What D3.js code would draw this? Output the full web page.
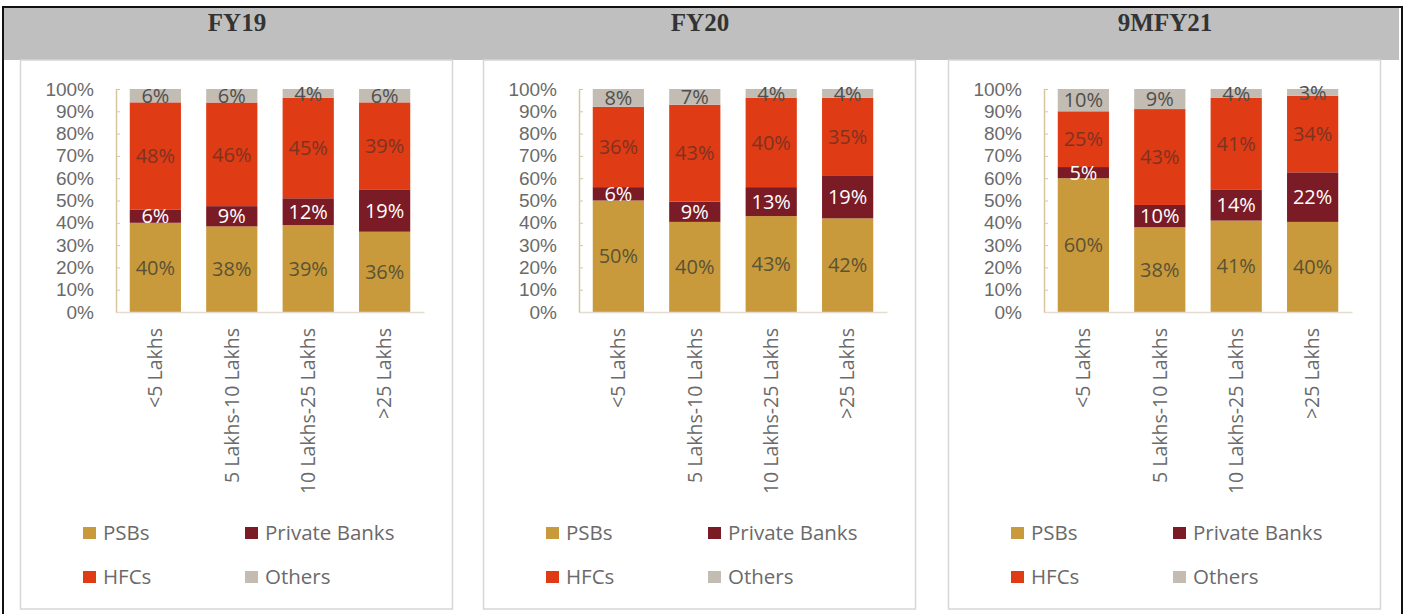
<!DOCTYPE html>
<html>
<head>
<meta charset="utf-8">
<script src="https://cdn.jsdelivr.net/npm/d3@7"></script>
<style>
  html, body { margin: 0; padding: 0; background: #fff; }
  svg { display: block; }
  text { font-family: "Open Sans", "Noto Sans", sans-serif; }
</style>
</head>
<body>
<svg id="chart" width="1405" height="614"></svg>
<script>
// ---------- data ----------
const periods = ["FY19", "FY20", "9MFY21"];
const categories = ["<5 Lakhs", "5 Lakhs-10 Lakhs", "10 Lakhs-25 Lakhs", ">25 Lakhs"];
const seriesNames = ["PSBs", "Private Banks", "HFCs", "Others"];

// one row per period (FY19, FY20, 9MFY21), one value per category
const psbs         = [[40, 38, 39, 36], [50, 40, 43, 42], [60, 38, 41, 40]];
const privateBanks = [[6, 9, 12, 19],   [6, 9, 13, 19],   [5, 10, 14, 22]];
const hfcs         = [[48, 46, 45, 39], [36, 43, 40, 35], [25, 43, 41, 34]];
const others       = [[6, 6, 4, 6],     [8, 7, 4, 4],     [10, 9, 4, 3]];

const yTickValues = [0, 10, 20, 30, 40, 50, 60, 70, 80, 90, 100];

// ---------- styles ----------
const colors = { "PSBs": "#c99a3b", "Private Banks": "#7a1b26", "HFCs": "#df3b14", "Others": "#c2bcb2" };
const labelColors = { "PSBs": "#5a5235", "Private Banks": "#ffffff", "HFCs": "#7e3322", "Others": "#4f4f4f" };
const textGray = "#6a6a6a";

const svg = d3.select("#chart");

// outer frame + header band
svg.append("rect").attr("x", 4).attr("y", 8).attr("width", 1395).attr("height", 52).attr("fill", "#bfbfbf");
svg.append("line").attr("x1", 3).attr("x2", 1403).attr("y1", 7).attr("y2", 7).attr("stroke", "#111").attr("stroke-width", 2);
svg.append("line").attr("x1", 3).attr("x2", 3).attr("y1", 6).attr("y2", 614).attr("stroke", "#111").attr("stroke-width", 2);
svg.append("line").attr("x1", 1402).attr("x2", 1402).attr("y1", 6).attr("y2", 614).attr("stroke", "#111").attr("stroke-width", 2);

const panelX = [20, 483, 948];
const panelW = 432;
const panelTop = 60, panelBottom = 609;
const plotTop = 89, plotBottom = 312;
const axisOffset = 96, plotW = 308;

const y = d3.scaleLinear().domain([0, 1]).range([plotBottom, plotTop]);

periods.forEach((p, pi) => {
  const px = panelX[pi];
  const g = svg.append("g");

  // panel
  g.append("rect").attr("x", px + 0.5).attr("y", panelTop).attr("width", panelW).attr("height", panelBottom - panelTop)
    .attr("fill", "#fff").attr("stroke", "#d6d6d6").attr("stroke-width", 1.5);

  // header title
  svg.append("text").attr("x", px + panelW / 2 + 1).attr("y", 31)
    .attr("text-anchor", "middle")
    .style("font-family", "'Liberation Serif', 'DejaVu Serif', serif")
    .style("font-weight", "bold").style("font-size", "25px").attr("fill", "#333")
    .text(p);

  const rows = categories.map((c, i) => ({
    category: c,
    "PSBs": psbs[pi][i],
    "Private Banks": privateBanks[pi][i],
    "HFCs": hfcs[pi][i],
    "Others": others[pi][i]
  }));

  const stacked = d3.stack().keys(seriesNames).offset(d3.stackOffsetExpand)(rows);

  const x = d3.scaleBand().domain(categories)
    .range([px + axisOffset, px + axisOffset + plotW])
    .paddingInner(0.33).paddingOuter(0.18);

  // bars
  stacked.forEach(layer => {
    const key = layer.key;
    g.append("g").selectAll("rect").data(layer).join("rect")
      .attr("x", d => x(d.data.category))
      .attr("width", x.bandwidth())
      .attr("y", d => y(d[1]))
      .attr("height", d => y(d[0]) - y(d[1]))
      .attr("fill", colors[key]);
  });

  // y axis
  const yAxis = d3.axisLeft(y)
    .tickValues(yTickValues.map(v => v / 100))
    .tickFormat(d => Math.round(d * 100) + "%")
    .tickSizeInner(-4).tickSizeOuter(0).tickPadding(22);
  const ya = g.append("g").attr("transform", `translate(${px + axisOffset},0)`).call(yAxis);
  ya.select(".domain").attr("stroke", "#d9c6a0").attr("stroke-width", 1.5);
  ya.selectAll(".tick line").attr("stroke", "#d9c6a0");
  ya.selectAll(".tick text").attr("fill", textGray).style("font-size", "19px")
    .style("font-family", "'Liberation Sans', Arial, sans-serif");

  // x axis
  const xAxis = d3.axisBottom(x).tickSize(0).tickPadding(0);
  const xa = g.append("g").attr("transform", `translate(0,${plotBottom})`).call(xAxis);
  xa.select(".domain").attr("stroke", "#e2ddd0").attr("stroke-width", 1.5);
  xa.selectAll(".tick text")
    .attr("fill", textGray).style("font-size", "19.5px").style("font-family", "'Open Sans', sans-serif")
    .attr("text-anchor", "end")
    .attr("transform", "rotate(-90)")
    .attr("x", -16).attr("y", 0).attr("dy", "0.35em");

  // data labels
  stacked.forEach(layer => {
    const key = layer.key;
    g.append("g").selectAll("text").data(layer).join("text")
      .attr("x", d => x(d.data.category) + x.bandwidth() / 2)
      .attr("y", d => y((d[0] + d[1]) / 2))
      .attr("dy", "0.36em")
      .attr("text-anchor", "middle")
      .attr("fill", labelColors[key])
      .style("font-size", "20px")
      .text(d => d.data[key] + "%");
  });

  // legend
  const legendPos = [
    { name: "PSBs", dx: 63, y: 533 },
    { name: "Private Banks", dx: 225, y: 533 },
    { name: "HFCs", dx: 63, y: 577 },
    { name: "Others", dx: 225, y: 577 }
  ];
  legendPos.forEach(l => {
    g.append("rect").attr("x", px + l.dx).attr("y", l.y - 6).attr("width", 13).attr("height", 12).attr("fill", colors[l.name]);
    g.append("text").attr("x", px + l.dx + 20).attr("y", l.y).attr("dy", "0.36em")
      .attr("fill", textGray).style("font-size", "20.5px").text(l.name);
  });
});
</script>
</body>
</html>
